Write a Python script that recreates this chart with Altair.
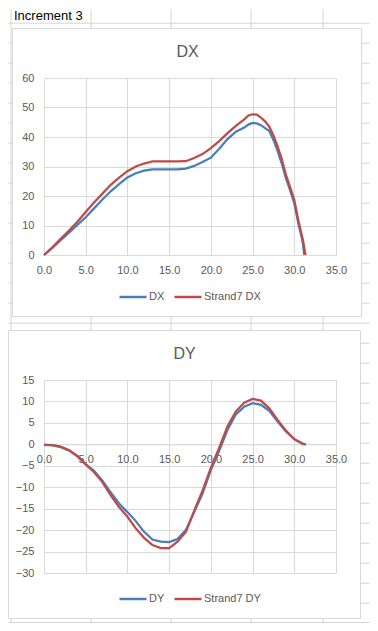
import altair as alt
import pandas as pd

# ---------------- data ----------------
SHEET_LABEL = "Increment 3"
TITLE_DX = "DX"
TITLE_DY = "DY"
SERIES_DX = ["DX", "Strand7 DX"]
SERIES_DY = ["DY", "Strand7 DY"]
X_TICKS = [0, 5, 10, 15, 20, 25, 30, 35]
Y_TICKS_DX = [0, 10, 20, 30, 40, 50, 60]
Y_TICKS_DY = [15, 10, 5, 0, -5, -10, -15, -20, -25, -30]

dx_x = [0, 1, 2, 3, 4, 5, 6, 7, 8, 9, 10, 11, 12, 13, 14, 15, 16, 17, 18, 19,
        20, 21, 22, 23, 24, 24.5, 25, 25.5, 26, 26.5, 27, 27.5, 28, 28.5, 29,
        29.5, 30, 30.5, 31, 31.2]
dx_val = [0, 2.4, 5.0, 7.6, 10.2, 12.8, 15.8, 18.8, 21.6, 24.0, 26.3, 27.7,
          28.6, 29.0, 29.0, 29.0, 29.0, 29.3, 30.2, 31.5, 33.0, 36.0, 39.3,
          41.8, 43.2, 44.2, 44.8, 44.6, 44.0, 43.0, 42.0, 39.0, 35.3, 31.0,
          26.0, 22.0, 17.5, 10.5, 4.5, 0]

s7dx_x = [0, 1, 2, 3, 4, 5, 6, 7, 8, 9, 10, 11, 12, 13, 14, 15, 16, 17, 18, 19,
          20, 21, 22, 23, 24, 24.5, 25, 25.5, 26, 26.5, 27, 27.5, 28, 28.5, 29,
          29.5, 30, 30.5, 31, 31.35]
s7dx_val = [0, 2.6, 5.5, 8.3, 11.3, 14.6, 17.8, 20.8, 23.8, 26.2, 28.4, 30.0,
            31.0, 31.7, 31.7, 31.7, 31.7, 31.8, 32.9, 34.2, 36.2, 38.6, 41.3,
            43.8, 46.0, 47.3, 47.7, 47.6, 46.6, 45.3, 43.5, 40.5, 36.8, 32.5,
            27.2, 23.0, 18.6, 11.5, 5.5, 0]

dy_x = [0, 1, 2, 3, 4, 5, 6, 7, 8, 9, 10, 11, 12, 13, 14, 15, 16, 17, 18, 19,
        20, 21, 22, 23, 24, 25, 26, 27, 28, 29, 30, 31, 31.2]
dy_val = [-0.1, -0.2, -0.6, -1.4, -2.7, -4.6, -6.2, -8.5, -11.2, -13.8, -15.8,
          -17.9, -20.4, -22.2, -22.7, -22.8, -22.1, -20.0, -15.8, -11.5, -6.0,
          -1.5, 3.4, 7.0, 8.8, 9.6, 9.2, 7.8, 5.3, 3.0, 1.2, 0.2, 0]

s7dy_x = [0, 1, 2, 3, 4, 5, 6, 7, 8, 9, 10, 11, 12, 13, 14, 15, 16, 17, 18, 19,
          20, 21, 22, 23, 24, 25, 26, 27, 28, 29, 30, 31, 31.4]
s7dy_val = [-0.1, -0.2, -0.6, -1.4, -2.8, -4.7, -6.5, -8.8, -11.9, -14.6,
            -16.9, -19.6, -21.8, -23.5, -24.2, -24.2, -22.7, -20.4, -15.5,
            -10.8, -5.5, -0.8, 4.2, 7.7, 9.7, 10.6, 10.2, 8.4, 5.7, 3.2, 1.2,
            0.1, 0]

# ---------------- styling / layout ----------------
BLUE = "#4A7EBB"
RED = "#BE4B48"
GRID = "#D9D9D9"
SHEET = "#D4D4D4"
TEXT = "#595959"
FONT = "Liberation Sans"
W = 292

df_dx = pd.concat([
    pd.DataFrame({"x": dx_x, "v": dx_val, "s": SERIES_DX[0]}),
    pd.DataFrame({"x": s7dx_x, "v": s7dx_val, "s": SERIES_DX[1]}),
])
df_dy = pd.concat([
    pd.DataFrame({"x": dy_x, "v": dy_val, "s": SERIES_DY[0]}),
    pd.DataFrame({"x": s7dy_x, "v": s7dy_val, "s": SERIES_DY[1]}),
])
one = pd.DataFrame({"k": [0]})

# --- spreadsheet cell grid behind the two chart boxes (decoration, page px) ---
OX, OY = 43.5, 77.5            # page position of the first plot's origin
PAGE_L, PAGE_T, PAGE_R, PAGE_B = 8, 8.5, 369, 622.5
BOX1 = (12, 361, 28, 316)      # left, right, top, bottom of chart box 1
BOX2 = (8, 360, 330, 618)      # chart box 2
ROW_LINES = [22.7 + 20 * k for k in range(30)] + [622]
COL_LINES = [10.5, 90.5, 170.5, 250.5, 322.5]


def sheet_segments():
    segs = []
    for y in ROW_LINES:
        if BOX1[2] < y < BOX1[3]:
            segs += [(PAGE_L, BOX1[0], y, y), (BOX1[1], PAGE_R, y, y)]
        elif BOX2[2] < y < BOX2[3]:
            segs += [(BOX2[1], PAGE_R, y, y)]
        else:
            segs += [(PAGE_L, PAGE_R, y, y)]
    for x in COL_LINES:
        if x < BOX1[0]:
            segs += [(x, x, PAGE_T, BOX2[2]), (x, x, BOX2[3], PAGE_B)]
        else:
            segs += [(x, x, PAGE_T, BOX1[2]), (x, x, BOX1[3], BOX2[2]),
                     (x, x, BOX2[3], PAGE_B)]
    return segs


def sheet_rule(x1, x2, y1, y2):
    return alt.Chart(one).mark_rule(color=SHEET, strokeWidth=1).encode(
        x=alt.value(x1 - OX), x2=alt.value(x2 - OX),
        y=alt.value(y1 - OY), y2=alt.value(y2 - OY))


def frame(x1, x2, y1, y2):
    return alt.Chart(one).mark_rect(filled=False, stroke=GRID, strokeWidth=1).encode(
        x=alt.value(x1), x2=alt.value(x2), y=alt.value(y1), y2=alt.value(y2))


def title_text(txt, cx, by):
    return alt.Chart(one).mark_text(
        text=txt, font=FONT, fontSize=16, color=TEXT, align="center",
        baseline="alphabetic").encode(x=alt.value(cx), y=alt.value(by))


def panel(df, series, yticks, ydom, height, xoffset):
    x_axis = alt.Axis(values=X_TICKS, format=".1f", title=None, ticks=False,
                      labelPadding=9, grid=True, gridColor=GRID, domainColor=GRID,
                      labelFont=FONT, labelFontSize=11, labelColor=TEXT,
                      labelFlush=False, labelOverlap=False, offset=xoffset)
    y_axis = alt.Axis(values=yticks, format="d", title=None, ticks=False,
                      labelPadding=10, domain=False, grid=True, gridColor=GRID,
                      labelFont=FONT, labelFontSize=11, labelColor=TEXT,
                      labelOverlap=False)
    legend = alt.Legend(orient="none", legendX=74, legendY=204,
                        direction="horizontal", title=None, symbolType="stroke",
                        symbolSize=729, symbolStrokeWidth=2.5, labelFont=FONT,
                        labelFontSize=11, labelColor=TEXT, labelOffset=1,
                        columnPadding=4, padding=0)
    return alt.Chart(df).mark_line(strokeWidth=2.25).encode(
        x=alt.X("x:Q", scale=alt.Scale(domain=[0, 35], nice=False), axis=x_axis),
        y=alt.Y("v:Q", scale=alt.Scale(domain=ydom, nice=False), axis=y_axis),
        color=alt.Color("s:N", scale=alt.Scale(domain=series, range=[BLUE, RED]),
                        legend=legend),
    ).properties(width=W, height=height)


sheet_label = alt.Chart(one).mark_text(
    text=SHEET_LABEL, font=FONT, fontSize=13, color="black", align="left",
    baseline="alphabetic").encode(x=alt.value(13.5 - OX), y=alt.value(-58.5))

c1 = alt.layer(
    *[sheet_rule(*s) for s in sheet_segments()],
    sheet_label,
    frame(BOX1[0] - OX, BOX1[1] - OX, BOX1[2] - OY, BOX1[3] - OY),
    title_text(TITLE_DX, 143.5, -21.3),
    panel(df_dx, SERIES_DX, Y_TICKS_DX, [0, 60], 177, 0),
)

OY2 = OY + 177 + 125
c2 = alt.layer(
    frame(BOX2[0] - OX, BOX2[1] - OX, BOX2[2] - OY2, BOX2[3] - OY2),
    title_text(TITLE_DY, 140.5, -21.2),
    panel(df_dy, SERIES_DY, Y_TICKS_DY, [-30, 15], 193, -128.7),
)

chart = alt.vconcat(c1, c2, spacing=125, bounds="flush").resolve_scale(
    color="independent", x="independent", y="independent"
).properties(
    padding={"left": 0, "top": 0, "right": 0, "bottom": 0},
    background="white",
).configure_view(stroke=None)

chart.save("out.html", embed_options={"renderer": "svg", "actions": False})
